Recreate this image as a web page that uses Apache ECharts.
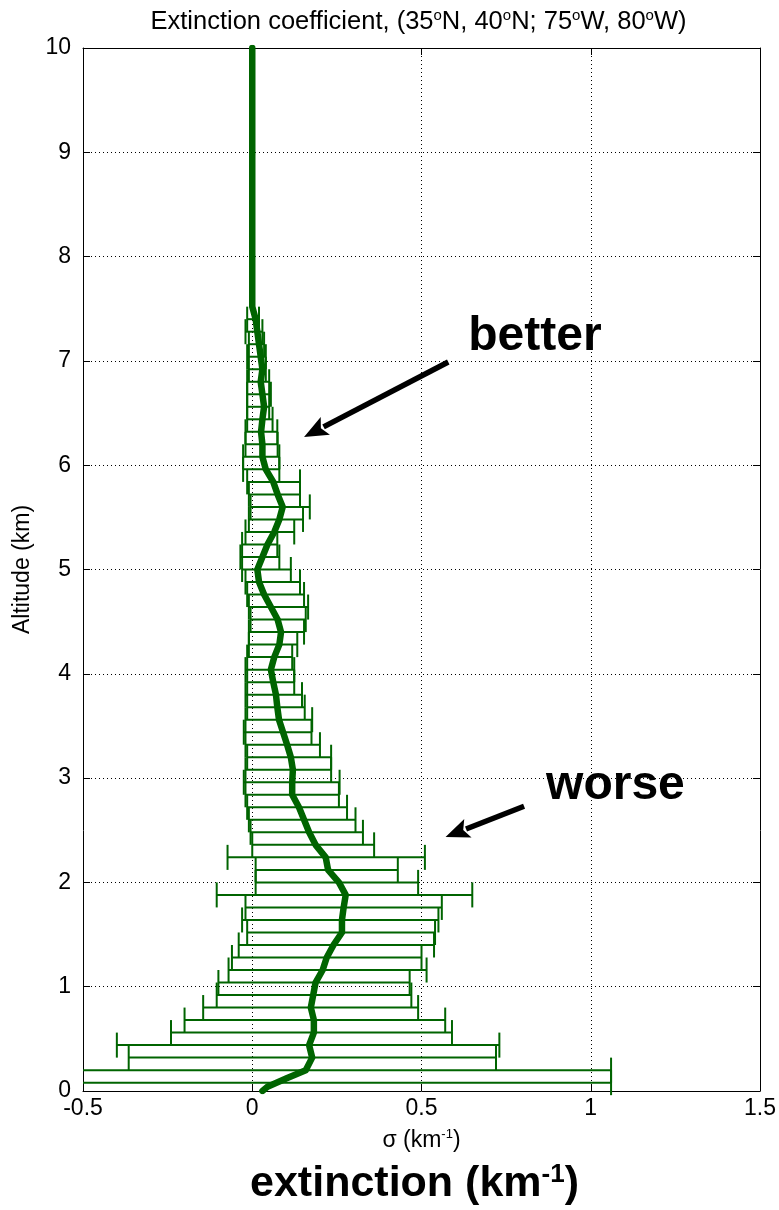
<!DOCTYPE html>
<html><head><meta charset="utf-8">
<script src="https://cdn.jsdelivr.net/npm/echarts@6/dist/echarts.min.js"></script>
<style>html,body{margin:0;padding:0;background:#fff}#c{width:779px;height:1210px}</style>
</head><body><div id="c"></div>
<script>
// ---- data ----
const barAlt = [0.08,0.20,0.32,0.44,0.56,0.68,0.80,0.92,1.04,1.16,1.28,1.40,1.52,1.64,1.76,1.88,2.00,2.12,2.24,2.36,2.48,2.60,2.72,2.84,2.96,3.08,3.20,3.32,3.44,3.56,3.68,3.80,3.92,4.04,4.16,4.28,4.40,4.52,4.64,4.76,4.88,5.00,5.12,5.24,5.36,5.48,5.60,5.72,5.84,5.96,6.08,6.20,6.32,6.44,6.56,6.68,6.80,6.92,7.04,7.16,7.28,7.40];
const barLow = [-0.62,-0.58,-0.365,-0.40,-0.24,-0.20,-0.145,-0.105,-0.10,-0.07,-0.06,-0.04,-0.015,-0.03,-0.02,-0.105,0.01,0.01,-0.073,0.00,-0.005,-0.01,-0.015,-0.02,-0.025,-0.02,-0.015,-0.02,-0.025,-0.02,-0.015,-0.02,-0.015,-0.02,-0.015,-0.01,-0.01,-0.005,-0.01,-0.015,-0.02,-0.03,-0.035,-0.03,-0.02,-0.01,-0.005,-0.01,-0.015,-0.027,-0.027,-0.02,-0.02,-0.015,-0.015,-0.015,-0.015,-0.01,-0.015,-0.01,-0.02,-0.015];
const barHigh = [1.06,1.06,0.72,0.73,0.59,0.57,0.49,0.47,0.465,0.515,0.50,0.537,0.54,0.55,0.56,0.65,0.49,0.43,0.51,0.36,0.327,0.305,0.28,0.256,0.258,0.233,0.233,0.20,0.175,0.177,0.155,0.147,0.124,0.124,0.118,0.133,0.153,0.158,0.165,0.153,0.141,0.114,0.08,0.074,0.124,0.15,0.17,0.141,0.141,0.08,0.08,0.075,0.074,0.06,0.05,0.055,0.05,0.04,0.04,0.035,0.03,0.02];
const meanAlt = [0.00,0.04,0.12,0.20,0.32,0.44,0.56,0.68,0.80,0.92,1.04,1.16,1.28,1.40,1.52,1.64,1.76,1.88,2.00,2.12,2.24,2.36,2.48,2.60,2.72,2.84,2.96,3.08,3.20,3.32,3.44,3.56,3.68,3.80,3.92,4.04,4.16,4.28,4.40,4.52,4.64,4.76,4.88,5.00,5.12,5.24,5.36,5.48,5.60,5.72,5.84,5.96,6.08,6.20,6.32,6.44,6.56,6.68,6.80,6.92,7.04,7.16,7.28,7.40,7.52,10.0];
const meanVal = [0.03,0.045,0.10,0.158,0.177,0.168,0.182,0.182,0.173,0.18,0.187,0.208,0.22,0.24,0.265,0.265,0.27,0.276,0.256,0.224,0.217,0.187,0.168,0.153,0.138,0.118,0.118,0.12,0.114,0.103,0.091,0.079,0.074,0.07,0.062,0.055,0.065,0.08,0.085,0.075,0.055,0.035,0.02,0.015,0.03,0.045,0.065,0.08,0.09,0.075,0.062,0.04,0.03,0.03,0.026,0.03,0.035,0.03,0.025,0.03,0.025,0.02,0.015,0.01,0.0,0.0];
const capHalf = 0.12;          // half height of error-bar caps (km)
const xMin = -0.5, xMax = 1.5, xStep = 0.5;
const yMin = 0, yMax = 10, yStep = 1;
// annotations in data coordinates
const betterText = {x: 0.638, y: 7.23, text: 'better'};
const betterArrow = {from: [0.579, 6.99], to: [0.153, 6.27]};
const worseText = {x: 0.868, y: 2.93, text: 'worse'};
const worseArrow = {from: [0.803, 2.73], to: [0.571, 2.435]};
const titleText = 'Extinction coefficient, (35{s|o}N, 40{s|o}N; 75{s|o}W, 80{s|o}W)';
const bigLabel = 'extinction (km{s|-1})';

const GREEN = '#006400';
const FONT = 'Liberation Sans, Arial, sans-serif';

const chart = echarts.init(document.getElementById('c'), null, {renderer: 'canvas'});

const barData = barAlt.map((h, i) => [barLow[i], barHigh[i], h]);
const meanData = meanAlt.map((h, i) => [meanVal[i], h]);

function renderBar(params, api) {
  const lo = api.value(0), hi = api.value(1), h = api.value(2);
  const cs = params.coordSys;
  const pLo = api.coord([lo, h]);
  const pHi = api.coord([hi, h]);
  const half = api.size([0, capHalf])[1];
  const left = cs.x, right = cs.x + cs.width;
  const x0 = Math.max(pLo[0], left), x1 = Math.min(pHi[0], right);
  const style = {stroke: GREEN, lineWidth: 2};
  const children = [{type: 'line', shape: {x1: x0, y1: pLo[1], x2: x1, y2: pLo[1]}, style}];
  if (pLo[0] >= left) children.push({type: 'line', shape: {x1: pLo[0], y1: pLo[1] - half, x2: pLo[0], y2: pLo[1] + half}, style});
  if (pHi[0] <= right) children.push({type: 'line', shape: {x1: pHi[0], y1: pHi[1] - half, x2: pHi[0], y2: pHi[1] + half}, style});
  return {type: 'group', children};
}

const axisCommon = {
  axisLine: {show: true, onZero: false, lineStyle: {color: '#000', width: 1}},
  axisTick: {show: true, inside: true, length: 7, lineStyle: {color: '#000'}},
};

const option = {
  animation: false,
  backgroundColor: '#fff',
  grid: {left: 83, right: 15, top: 48, bottom: 119, containLabel: false},
  xAxis: [{
    type: 'value', min: xMin, max: xMax, interval: xStep, position: 'bottom',
    ...axisCommon,
    axisLabel: {color: '#000', fontFamily: FONT, fontSize: 23, margin: 6,
      formatter: v => String(v)},
    splitLine: {show: true, lineStyle: {color: '#000', type: [1, 3], width: 1}},
    name: 'σ (km{s|-1})', nameLocation: 'middle', nameGap: 37,
    nameTextStyle: {color: '#000', fontFamily: FONT, fontSize: 23,
      rich: {s: {fontFamily: FONT, fontSize: 13, color: '#000', padding: [0, 0, 12, 0]}}}
  }, {
    type: 'value', min: xMin, max: xMax, interval: xStep, position: 'top',
    ...axisCommon, axisLabel: {show: false}, splitLine: {show: false}
  }],
  yAxis: [{
    type: 'value', min: yMin, max: yMax, interval: yStep, position: 'left',
    ...axisCommon,
    axisLabel: {color: '#000', fontFamily: FONT, fontSize: 23, margin: 12},
    splitLine: {show: true, lineStyle: {color: '#000', type: [1, 3], width: 1}},
    name: 'Altitude (km)', nameLocation: 'middle', nameGap: 46,
    nameTextStyle: {color: '#000', fontFamily: FONT, fontSize: 23}
  }, {
    type: 'value', min: yMin, max: yMax, interval: yStep, position: 'right',
    ...axisCommon, axisLabel: {show: false}, splitLine: {show: false}
  }],
  series: [{
    type: 'custom', name: 'error', renderItem: renderBar, data: barData,
    encode: {x: [0, 1], y: 2}, xAxisIndex: 0, yAxisIndex: 0, z: 2
  }, {
    type: 'line', name: 'mean', data: meanData, xAxisIndex: 0, yAxisIndex: 0,
    showSymbol: false, symbol: 'none', smooth: false,
    lineStyle: {color: GREEN, width: 6.5, join: 'round', cap: 'round'}, z: 3
  }]
};
chart.setOption(option);

function arrow(a) {
  const p0 = chart.convertToPixel({gridIndex: 0}, a.from);
  const p1 = chart.convertToPixel({gridIndex: 0}, a.to);
  const dx = p1[0] - p0[0], dy = p1[1] - p0[1];
  const len = Math.hypot(dx, dy);
  const ux = dx / len, uy = dy / len, nx = -uy, ny = ux;
  const L = 24, W = 10;
  const bx = p1[0] - ux * L, by = p1[1] - uy * L;
  return [{
    type: 'line', shape: {x1: p0[0], y1: p0[1], x2: bx + ux * 2, y2: by + uy * 2},
    style: {stroke: '#000', lineWidth: 5.5}
  }, {
    type: 'polygon', shape: {points: [[p1[0], p1[1]], [bx + nx * W, by + ny * W], [bx + ux * 5, by + uy * 5], [bx - nx * W, by - ny * W]]},
    style: {fill: '#000'}
  }];
}
function label(t) {
  const p = chart.convertToPixel({gridIndex: 0}, [t.x, t.y]);
  return {type: 'text', x: p[0], y: p[1], style: {text: t.text, fill: '#000',
    font: 'bold 48px ' + FONT, textAlign: 'left', textVerticalAlign: 'middle'}};
}
const gridCenterX = chart.convertToPixel({gridIndex: 0}, [(xMin + xMax) / 2, 0])[0];
chart.setOption({graphic: [
  ...arrow(betterArrow), ...arrow(worseArrow), label(betterText), label(worseText),
  {type: 'text', x: gridCenterX - 3, y: 22, style: {
    text: titleText, fill: '#000', font: '25.5px ' + FONT, textAlign: 'center', textVerticalAlign: 'middle',
    rich: {s: {font: '15px ' + FONT, fill: '#000', padding: [0, 0, 12, 0]}}}},
  {type: 'text', x: gridCenterX - 7, y: 1184, style: {
    text: bigLabel, fill: '#000', font: 'bold 43px ' + FONT, textAlign: 'center', textVerticalAlign: 'middle',
    rich: {s: {font: 'bold 26px ' + FONT, fill: '#000', padding: [0, 0, 18, 0]}}}}
]});
</script>
</body></html>
